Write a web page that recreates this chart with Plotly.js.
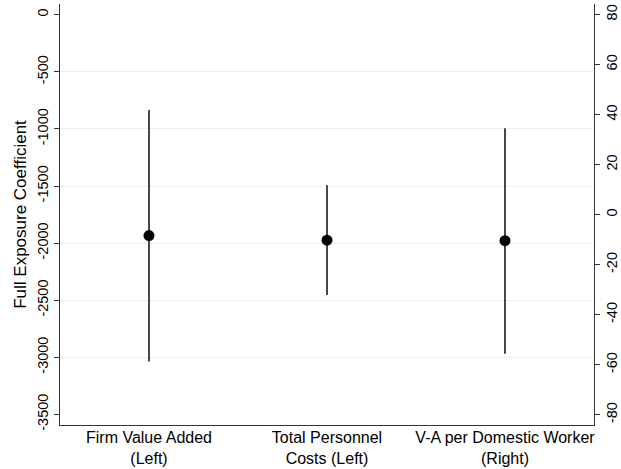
<!DOCTYPE html>
<html>
<head>
<meta charset="utf-8">
<script src="https://cdn.plot.ly/plotly-3.0.1.min.js"></script>
<style>html,body{margin:0;padding:0;background:#fff;}#chart{width:621px;height:469px;}</style>
</head>
<body>
<div id="chart"></div>
<script>
// Data
const categories = ["Firm Value Added<br>(Left)", "Total Personnel<br>Costs (Left)", "V-A per Domestic Worker<br>(Right)"];
const positions = [1, 2, 3];
const coef  = [-1934, -1974, -10.4];
const upper = [-834, -1493, 34.5];
const lower = [-3036, -2455, -55.6];
const axisSide = ["left", "left", "right"];

const leftTicks = [0, -500, -1000, -1500, -2000, -2500, -3000, -3500];
const leftGrid = [-500, -1000, -1500, -2000, -2500, -3000];
const rightTicks = [80, 60, 40, 20, 0, -20, -40, -60, -80];

const font = "Liberation Sans, Arial, Helvetica, sans-serif";

function traceFor(side) {
  const idx = axisSide.map((s, i) => s === side ? i : -1).filter(i => i >= 0);
  return {
    type: 'scatter', mode: 'markers',
    x: idx.map(i => positions[i]),
    y: idx.map(i => coef[i]),
    yaxis: side === 'left' ? 'y' : 'y2',
    marker: {color: '#000', size: 11},
    error_y: {
      type: 'data', symmetric: false,
      array: idx.map(i => upper[i] - coef[i]),
      arrayminus: idx.map(i => coef[i] - lower[i]),
      width: 0, thickness: 1.6, color: '#1a1a1a'
    },
    showlegend: false, hoverinfo: 'skip', cliponaxis: false
  };
}

const data = [traceFor('left'), traceFor('right')];

const layout = {
  width: 621, height: 469,
  margin: {l: 60, r: 27, t: 4, b: 44},
  paper_bgcolor: '#fff', plot_bgcolor: '#fff',
  font: {family: font, color: '#000', size: 14},
  showlegend: false,
  xaxis: {
    range: [0.5, 3.5], tickvals: positions, ticktext: categories,
    ticks: '', showgrid: false, zeroline: false,
    showline: true, linecolor: '#333', linewidth: 1,
    ticklabelstandoff: -2,
    tickfont: {size: 16, family: font, color: '#000'}
  },
  yaxis: {
    range: [-3593, 94], tickvals: leftTicks, ticktext: leftTicks.map(String),
    tickangle: -90, ticks: 'outside', ticklen: 5, tickcolor: '#333',
    showgrid: false, zeroline: false,
    showline: true, linecolor: '#333', linewidth: 1,
    tickfont: {size: 14.5, family: font, color: '#000'},
    minor: {tickvals: leftGrid, showgrid: true, gridcolor: '#e8f0f2', gridwidth: 1, ticks: ''},
    title: {text: 'Full Exposure Coefficient', font: {size: 17, family: font, color: '#000'}, standoff: 4}
  },
  yaxis2: {
    overlaying: 'y', side: 'right',
    range: [-84.1, 84.2], tickvals: rightTicks, ticktext: rightTicks.map(String),
    tickangle: -90, ticks: 'outside', ticklen: 5, tickcolor: '#333',
    showgrid: false, zeroline: false,
    showline: true, linecolor: '#333', linewidth: 1,
    tickfont: {size: 14.5, family: font, color: '#000'}
  }
};

Plotly.newPlot('chart', data, layout, {displayModeBar: false, staticPlot: true});
</script>
</body>
</html>
